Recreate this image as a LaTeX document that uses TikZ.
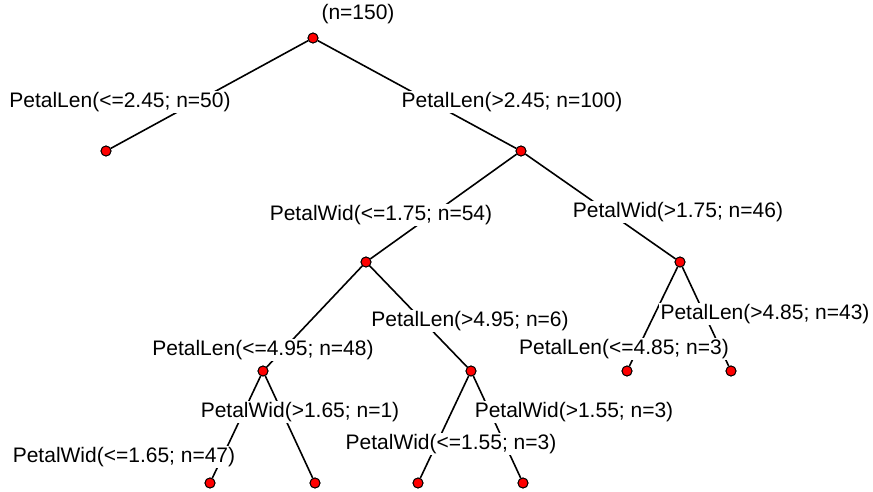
\documentclass[tikz,border=0pt]{standalone}
\usepackage{fontspec}
\setmainfont{Liberation Sans}
\definecolor{DotClr}{rgb}{1,0,0}

\begin{document}
\begin{tikzpicture}[x=1pt,y=-1pt,
  dot/.style={circle,draw=black,fill=DotClr,line width=.9pt,inner sep=0pt,minimum size=10pt},
  split/.style={fill=white,inner sep=1.5pt,font=\fontsize{21}{25}\selectfont},
  edge/.style={line width=1.6pt,black}]
\useasboundingbox (0,0) rectangle (873,491);

% tree nodes
\node[dot] (root) at (313,38) {};
\node[dot] (a) at (106,151) {};
\node[dot] (b) at (521,151) {};
\node[dot] (ba) at (366,262) {};
\node[dot] (bb) at (680,262) {};
\node[dot] (baa) at (263,371) {};
\node[dot] (bab) at (471,371) {};
\node[dot] (bba) at (627,371) {};
\node[dot] (bbb) at (731,371) {};
\node[dot] (baaa) at (210,483) {};
\node[dot] (baab) at (315,483) {};
\node[dot] (baba) at (418,483) {};
\node[dot] (babb) at (523,483) {};

% branches
\foreach \p/\c in {root/a,root/b,b/ba,b/bb,ba/baa,ba/bab,bb/bba,bb/bbb,
                   baa/baaa,baa/baab,bab/baba,bab/babb}
  \draw[edge] (\p) -- (\c);

% split labels
\node[split] (lroot) at (358,14) {(n=150)};
\node[split] (la) at (120,102) {PetalLen(<=2.45; n=50)};
\node[split] (lb) at (512,102) {PetalLen(>2.45; n=100)};
\node[split] (lba) at (381,215) {PetalWid(<=1.75; n=54)};
\node[split] (lbb) at (678,212) {PetalWid(>1.75; n=46)};
\node[split] (lbab) at (470,321) {PetalLen(>4.95; n=6)};
\node[split] (lbbb) at (765,314) {PetalLen(>4.85; n=43)};
\node[split] (lbaa) at (263,350) {PetalLen(<=4.95; n=48)};
\node[split] (lbba) at (624,349) {PetalLen(<=4.85; n=3)};
\node[split] (lbaab) at (300,412) {PetalWid(>1.65; n=1)};
\node[split] (lbabb) at (574,412) {PetalWid(>1.55; n=3)};
\node[split] (lbaba) at (451,444) {PetalWid(<=1.55; n=3)};
\node[split] (lbaaa) at (124,457) {PetalWid(<=1.65; n=47)};

% dots on top
\foreach \n in {root,a,b,ba,bb,baa,bab,bba,bbb,baaa,baab,baba,babb}
  \node[dot] at (\n) {};
\end{tikzpicture}
\end{document}
